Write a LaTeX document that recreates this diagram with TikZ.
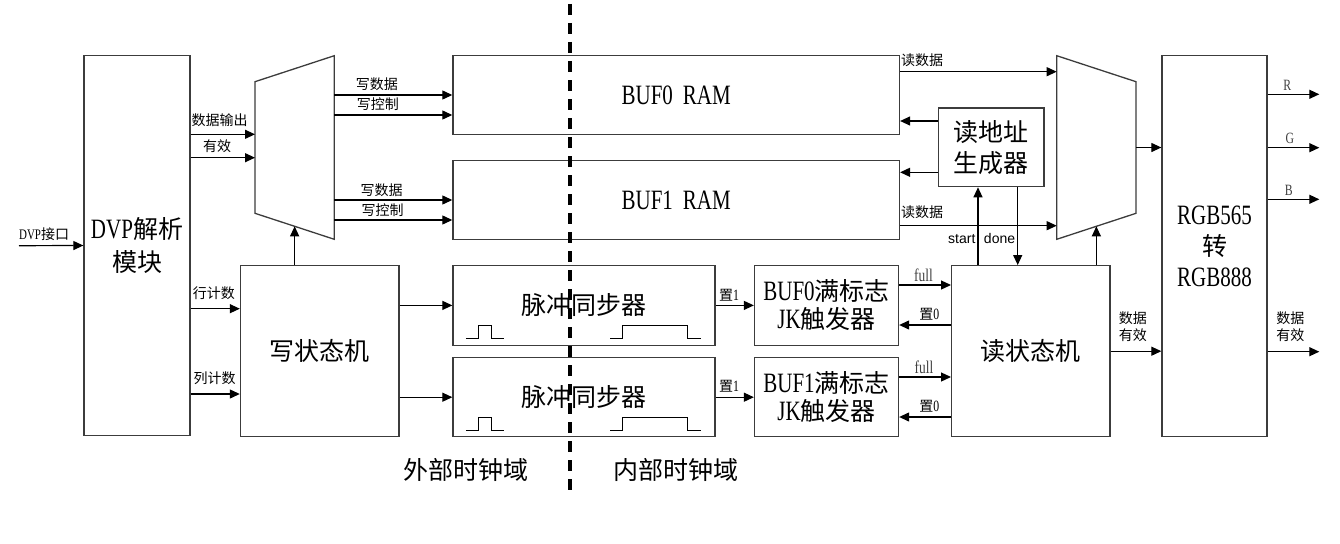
\documentclass[tikz,border=0pt]{standalone}
\usepackage{fontspec}
\setmainfont{Liberation Serif}[Scale=1.12, FakeStretch=0.75]
\setsansfont{Liberation Sans}
\newfontfamily\zhfont{Noto Sans CJK SC}
\newcommand{\zhtxt}[1]{{\zhfont #1}}
\usepackage{tikz}
\usetikzlibrary{shapes.geometric, arrows.meta, positioning, calc}
\definecolor{BoxGray}{RGB}{60, 60, 60}

\begin{document}
\begin{tikzpicture}[
    x=1pt,
    y=-1pt,
    blockbox/.style={
        rectangle,
        draw=BoxGray,
        line width=1.3pt,
        align=center,
        inner sep=0pt,
        font=\fontsize{25}{31}\selectfont
    },
    muxline/.style={
        draw=BoxGray,
        line width=1.3pt,
        line join=miter
    },
    sig/.style={
        draw=black,
        line width=1.2pt,
        -{Triangle[length=10pt, width=9pt]}
    },
    smalltxt/.style={
        font=\fontsize{14}{17}\selectfont,
        align=center,
        inner sep=1pt
    },
    flagtxt/.style={
        font=\fontsize{16}{18}\selectfont,
        text=black!75,
        inner sep=1pt
    },
    wave/.style={
        draw=black,
        line width=1.2pt
    }
]
\useasboundingbox (0,0) rectangle (1340,543);
% -------------------------------------------------------------
% WRITE SIDE
% -------------------------------------------------------------
\node[blockbox, minimum width=106pt, minimum height=380pt] (dvpNode) at (137,245.5)
{DVP\zhtxt{解析}\\[2pt]\zhtxt{模块}};
\node[blockbox, minimum width=158.5pt, minimum height=171pt] (wfsmNode) at (319.7,351.2)
{\zhtxt{写状态机}};
% write mux
\coordinate (wmuxNW) at (255,81.7);
\coordinate (wmuxNE) at (334.3,55.7);
\coordinate (wmuxSE) at (334.3,239.3);
\coordinate (wmuxSW) at (255,213.3);
\coordinate (wmuxBot) at ($(wmuxSW)!0.5!(wmuxSE)$);
\draw[muxline] (wmuxNW) -- (wmuxNE) -- (wmuxSE) -- (wmuxSW) -- cycle;
% -------------------------------------------------------------
% RAM BUFFERS
% -------------------------------------------------------------
\node[blockbox, minimum width=446.5pt, minimum height=78.6pt] (buf0Node) at (676.2,95)
{BUF0\hspace{10pt}RAM};
\node[blockbox, minimum width=446.5pt, minimum height=78.6pt] (buf1Node) at (676.2,200)
{BUF1\hspace{10pt}RAM};
% -------------------------------------------------------------
% PULSE SYNCHRONISERS
% -------------------------------------------------------------
\node[blockbox, minimum width=262pt, minimum height=79.5pt] (sync0Node) at (584,305.4)
{\zhtxt{脉冲同步器}};
\node[blockbox, minimum width=262pt, minimum height=79pt] (sync1Node) at (584,397.2)
{\zhtxt{脉冲同步器}};
% -------------------------------------------------------------
% JK FLIP-FLOPS
% -------------------------------------------------------------
\node[blockbox, minimum width=144pt, minimum height=79.5pt, font=\fontsize{25}{28}\selectfont] (jk0Node) at (826.5,305.4)
{BUF0\zhtxt{满标志}\\JK\zhtxt{触发器}};
\node[blockbox, minimum width=144pt, minimum height=79pt, font=\fontsize{25}{28}\selectfont] (jk1Node) at (826.5,397.2)
{BUF1\zhtxt{满标志}\\JK\zhtxt{触发器}};
% -------------------------------------------------------------
% READ SIDE
% -------------------------------------------------------------
\node[blockbox, minimum width=105.3pt, minimum height=78.7pt] (addrNode) at (991.3,147.3)
{\zhtxt{读地址}\\\zhtxt{生成器}};
\node[blockbox, minimum width=158.3pt, minimum height=171pt] (rfsmNode) at (1030.8,351.2)
{\zhtxt{读状态机}};
\node[blockbox, minimum width=105pt, minimum height=381pt] (rgbNode) at (1214.5,246.2)
{RGB565\\\zhtxt{转}\\RGB888};
% read mux
\coordinate (rmuxNW) at (1056.7,55.7);
\coordinate (rmuxNE) at (1136,81.7);
\coordinate (rmuxSE) at (1136,213.3);
\coordinate (rmuxSW) at (1056.7,239.3);
\coordinate (rmuxBot) at ($(rmuxSW)!0.5!(rmuxSE)$);
\coordinate (rmuxOut) at ($(rmuxNE)!0.5!(rmuxSE)$);
\draw[muxline] (rmuxNW) -- (rmuxNE) -- (rmuxSE) -- (rmuxSW) -- cycle;
% -------------------------------------------------------------
% FREE ENDS
% -------------------------------------------------------------
\coordinate (dvpIn) at (19,245.7);
\coordinate (outR) at (1319.3,94.3);
\coordinate (outG) at (1319.3,147.7);
\coordinate (outB) at (1319.3,199.3);
\coordinate (outValid) at (1319.3,351.7);
\coordinate (startPt) at ($(addrNode.south)+(-13.3,0)$);
\coordinate (donePt) at ($(addrNode.south)+(26.4,0)$);
\coordinate (domTop) at (570,4);
\coordinate (domBot) at (570,490);
% -------------------------------------------------------------
% DVP INPUT AND OUTPUTS
% -------------------------------------------------------------
\draw[sig] (dvpIn) -- node[smalltxt, above=3pt, pos=0.39] {{\fontsize{13}{14}\selectfont DVP}\zhtxt{接口}} (dvpNode.west);
\draw[sig] (dvpNode.east |- 0,134.3) -- node[smalltxt, above=6pt, pos=0.45] {\zhtxt{数据输出}} (wmuxNW |- 0,134.3);
\draw[sig] (dvpNode.east |- 0,157.7) -- node[smalltxt, above=3pt, pos=0.41] {\zhtxt{有效}} (wmuxNW |- 0,157.7);
\draw[sig] (dvpNode.east |- 0,308.7) -- node[smalltxt, above=7pt, pos=0.47] {\zhtxt{行计数}} (wfsmNode.west |- 0,308.7);
\draw[sig] (dvpNode.east |- 0,394) -- node[smalltxt, above=8pt, pos=0.49] {\zhtxt{列计数}} (wfsmNode.west |- 0,394);
% -------------------------------------------------------------
% WRITE MUX
% -------------------------------------------------------------
\draw[sig] (wfsmNode.north -| wmuxBot) -- (wmuxBot);
\draw[sig] (wmuxNE |- 0,95) -- node[smalltxt, above=3pt, pos=0.36] {\zhtxt{写数据}} (buf0Node.west |- 0,95);
\draw[sig] (wmuxNE |- 0,115) -- node[smalltxt, above=3pt, pos=0.37] {\zhtxt{写控制}} (buf0Node.west |- 0,115);
\draw[sig] (wmuxNE |- 0,200) -- node[smalltxt, above=2pt, pos=0.40] {\zhtxt{写数据}} (buf1Node.west |- 0,200);
\draw[sig] (wmuxNE |- 0,220) -- node[smalltxt, above=2pt, pos=0.41] {\zhtxt{写控制}} (buf1Node.west |- 0,220);
% -------------------------------------------------------------
% PULSES ACROSS THE CLOCK DOMAINS
% -------------------------------------------------------------
\draw[sig] (wfsmNode.east |- sync0Node.west) -- (sync0Node.west);
\draw[sig] (wfsmNode.east |- sync1Node.west) -- (sync1Node.west);
\draw[sig] (sync0Node.east) -- node[smalltxt, above=3pt, pos=0.35] {\zhtxt{置}1} (jk0Node.west);
\draw[sig] (sync1Node.east) -- node[smalltxt, above=3pt, pos=0.35] {\zhtxt{置}1} (jk1Node.west);
\draw[wave] ($(sync0Node.south west)+(13.5,-7)$) -- ++(12.5,0) -- ++(0,-13) -- ++(13.5,0) -- ++(0,13) -- ++(12.5,0);
\draw[wave] ($(sync0Node.south west)+(157.7,-7)$) -- ++(12.3,0) -- ++(0,-13) -- ++(65,0) -- ++(0,13) -- ++(13.5,0);
\draw[wave] ($(sync1Node.south west)+(13.5,-7)$) -- ++(12.5,0) -- ++(0,-13) -- ++(13.5,0) -- ++(0,13) -- ++(12.5,0);
\draw[wave] ($(sync1Node.south west)+(157.7,-7)$) -- ++(12.3,0) -- ++(0,-13) -- ++(65,0) -- ++(0,13) -- ++(13.5,0);
% -------------------------------------------------------------
% FLAGS AND READ STATE MACHINE
% -------------------------------------------------------------
\draw[sig] (jk0Node.east |- 0,285) -- node[flagtxt, above=2pt, pos=0.47] {full} (rfsmNode.west |- 0,285);
\draw[sig] (rfsmNode.west |- 0,325) -- node[smalltxt, above=3pt, pos=0.42] {\zhtxt{置}0} (jk0Node.east |- 0,325);
\draw[sig] (jk1Node.east |- 0,377) -- node[flagtxt, above=2pt, pos=0.48] {full} (rfsmNode.west |- 0,377);
\draw[sig] (rfsmNode.west |- 0,417) -- node[smalltxt, above=3pt, pos=0.42] {\zhtxt{置}0} (jk1Node.east |- 0,417);
\draw[sig] (startPt |- rfsmNode.north) -- node[smalltxt, left=1pt, pos=0.34, font=\sffamily\fontsize{14}{16}\selectfont] {start} (startPt);
\draw[sig] (donePt) -- node[smalltxt, left=1pt, pos=0.66, font=\sffamily\fontsize{14}{16}\selectfont] {done} (donePt |- rfsmNode.north);
% -------------------------------------------------------------
% READ ADDRESSES AND READ DATA
% -------------------------------------------------------------
\draw[sig] (addrNode.west |- 0,121) -- (buf0Node.east |- 0,121);
\draw[sig] (addrNode.west |- 0,172.3) -- (buf1Node.east |- 0,172.3);
\draw[sig] (buf0Node.east |- 0,71.7) -- node[smalltxt, above=3pt, pos=0.14] {\zhtxt{读数据}} (rmuxNW |- 0,71.7);
\draw[sig] (buf1Node.east |- 0,225.7) -- node[smalltxt, above=5pt, pos=0.14] {\zhtxt{读数据}} (rmuxNW |- 0,225.7);
\draw[sig] (rfsmNode.north -| rmuxBot) -- (rmuxBot);
\draw[sig] (rmuxOut) -- (rgbNode.west |- rmuxOut);
\draw[sig] (rfsmNode.east) -- node[smalltxt, above=8pt, pos=0.44] {\zhtxt{数据}\\\zhtxt{有效}} (rgbNode.west |- rfsmNode.east);
% -------------------------------------------------------------
% RGB888 OUTPUTS
% -------------------------------------------------------------
\draw[sig] (rgbNode.east |- outR) -- node[flagtxt, above=2pt, pos=0.38, font=\fontsize{14}{16}\selectfont] {R} (outR);
\draw[sig] (rgbNode.east |- outG) -- node[flagtxt, above=2pt, pos=0.43, font=\fontsize{14}{16}\selectfont] {G} (outG);
\draw[sig] (rgbNode.east |- outB) -- node[flagtxt, above=2pt, pos=0.41, font=\fontsize{14}{16}\selectfont] {B} (outB);
\draw[sig] (rgbNode.east |- outValid) -- node[smalltxt, above=8pt, pos=0.44] {\zhtxt{数据}\\\zhtxt{有效}} (outValid);
% -------------------------------------------------------------
% CLOCK DOMAIN BOUNDARY
% -------------------------------------------------------------
\draw[line width=3.5pt, dash pattern=on 11pt off 8pt] (domTop) -- (domBot);
\node[font=\fontsize{25}{30}\selectfont] (extDomNode) at (466,470) {\zhtxt{外部时钟域}};
\node[font=\fontsize{25}{30}\selectfont] (intDomNode) at (676,470) {\zhtxt{内部时钟域}};
\end{tikzpicture}
\end{document}
